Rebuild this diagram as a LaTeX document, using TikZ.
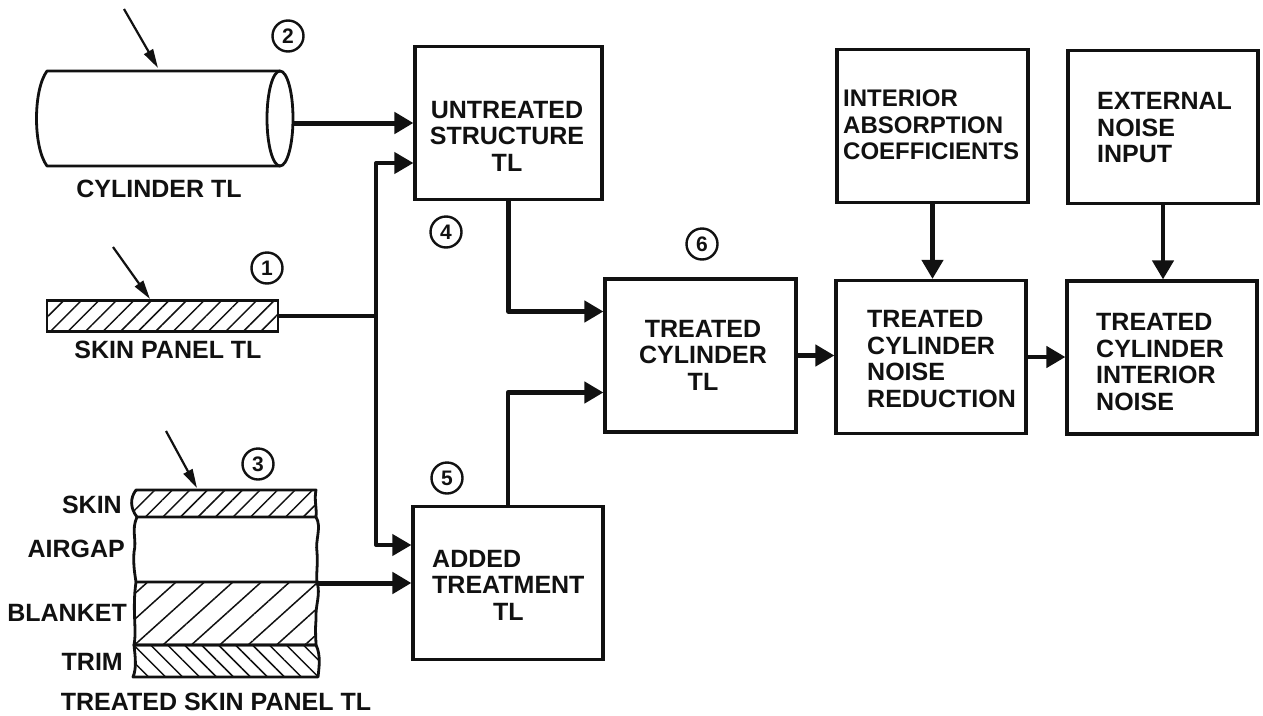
\documentclass[tikz,border=0pt]{standalone}
\usepackage{fontspec}
\setmainfont{Liberation Sans}
\usepackage{xcolor}
\usepackage{tikz}
\usetikzlibrary{
    arrows.meta, shapes.geometric, patterns.meta
}
\definecolor{inkcolor}{HTML}{111111}

\begin{document}
\begin{tikzpicture}[
    x=1pt, y=-1pt,
    color=inkcolor,
    block/.style={
        rectangle, draw, line width=3.2pt,
        minimum width=#1, minimum height=153pt, inner sep=0pt,
    },
    block/.default=190pt,
    boxtext/.style={
        font=\fontsize{25}{26.5}\selectfont\bfseries, inner sep=0pt,
    },
    tag/.style={
        circle, draw, line width=2.4pt, minimum size=31pt, inner sep=0pt,
        font=\fontsize{21}{21}\selectfont\bfseries,
    },
    flow/.style={
        line width=4.4pt, line join=round,
        -{Triangle[length=19pt,width=21pt]},
    },
    hit/.style={
        line width=2.2pt,
        -{Triangle[length=19pt,width=10pt]},
    },
    wall/.style={line width=2.8pt, line join=round},
    skinhatch/.style={pattern={Lines[angle=45,distance=12.4pt,line width=1.5pt]}, pattern color=inkcolor},
    blankethatch/.style={pattern={Lines[angle=42,distance=19pt,line width=1.5pt]}, pattern color=inkcolor},
    trimhatch/.style={pattern={Lines[angle=-45,distance=12pt,line width=1.5pt]}, pattern color=inkcolor},
]
\useasboundingbox (0,0) rectangle (1263,715);

% ── Blocks ─────────────────────────────────────────────────────────────────
\node[block=187pt] (untreated) at (508.5,123) {};
\node[block=191pt] (treated)   at (700.5,355.5) {};
\node[block=191pt] (absorption) at (932.5,126) {};
\node[block]       (external)  at (1163,127) {};
\node[block]       (reduction) at (931,357) {};
\node[block]       (interior)  at (1162,357.5) {};
\node[block]       (added)     at (508,583) {};

\node[boxtext, align=center] (untreatedtext) at (507,136) {UNTREATED\\STRUCTURE\\TL};
\node[boxtext, align=center] (treatedtext)   at (703,355) {TREATED\\CYLINDER\\TL};
\node[boxtext, align=left, anchor=west, font=\fontsize{24}{26.5}\selectfont\bfseries] (absorptiontext) at (843,125) {INTERIOR\\ABSORPTION\\COEFFICIENTS};
\node[boxtext, align=left, anchor=west] (externaltext)   at (1097,128) {EXTERNAL\\NOISE\\INPUT};
\node[boxtext, align=left, anchor=west] (reductiontext)  at (867,359) {TREATED\\CYLINDER\\NOISE\\REDUCTION};
\node[boxtext, align=left, anchor=west] (interiortext)   at (1096,362) {TREATED\\CYLINDER\\INTERIOR\\NOISE};
\node[boxtext, align=left, anchor=west] (addedtext)      at (432,585) {ADDED\\TREATMENT\\\hspace*{61pt}TL};

% ── Cylinder ───────────────────────────────────────────────────────────────
\draw[wall] (280,71) -- (47,71) .. controls (33,90) and (33,147) .. (47,166) -- (280,166);
\node[ellipse, draw, line width=2.8pt, minimum width=26pt, minimum height=95pt, inner sep=0pt] (cylend) at (280,118.5) {};
\node[boxtext] (cylindertext) at (159,189) {CYLINDER TL};

% ── Skin panel ─────────────────────────────────────────────────────────────
\node[rectangle, draw, line width=2.8pt, skinhatch, minimum width=231pt, minimum height=31pt, inner sep=0pt] (skinpanel) at (162.5,316) {};
\node[boxtext] (skintext) at (168,350) {SKIN PANEL TL};

% ── Treated skin panel ─────────────────────────────────────────────────────
\draw[wall, skinhatch] (136,490) -- (316,490) .. controls (314,500) and (317,508) .. (316,517)
    -- (137,517) .. controls (130,508) and (130,498) .. (136,490) -- cycle;
\draw[wall] (137,517) .. controls (131,530) and (137,540) .. (134,552) .. controls (133,565) and (135,575) .. (136,582)
    (316,517) .. controls (322,527) and (315,540) .. (317,552) .. controls (318,565) and (316,575) .. (317,582);
\draw[wall, blankethatch] (136,582) -- (317,582) .. controls (321,595) and (315,605) .. (316,620) .. controls (315,630) and (316,640) .. (316,645)
    -- (134,645) .. controls (137,630) and (132,610) .. (136,582) -- cycle;
\draw[wall, trimhatch] (134,645) -- (316,645) .. controls (321,655) and (319,668) .. (318,677)
    -- (133,677) .. controls (137,668) and (135,655) .. (134,645) -- cycle;
\coordinate (blanketedge) at (317,583);

\node[boxtext, anchor=east] (skinname)    at (122,505) {SKIN};
\node[boxtext, anchor=east] (airgapname)  at (125,549) {AIRGAP};
\node[boxtext, anchor=east] (blanketname) at (127,613) {BLANKET};
\node[boxtext, anchor=east] (trimname)    at (123,662) {TRIM};
\node[boxtext] (treatedpaneltext) at (216,702) {TREATED SKIN PANEL TL};

% ── Incident arrows ────────────────────────────────────────────────────────
\coordinate (cylsource)   at (124,9);
\coordinate (cylhit)      at (158,68);
\coordinate (skinsource)  at (113,247);
\coordinate (skinhit)     at (150,299);
\coordinate (panelsource) at (166,431);
\coordinate (panelhit)    at (197,488);
\draw[hit] (cylsource) -- (cylhit);
\draw[hit] (skinsource) -- (skinhit);
\draw[hit] (panelsource) -- (panelhit);

% ── Connectors ─────────────────────────────────────────────────────────────
\coordinate (trunk) at (376,316);
\draw[line width=4pt] (skinpanel.east) -- (trunk);
\draw[flow, line width=4pt] (trunk) |- ([yshift=-40pt]untreated.west);
\draw[flow, line width=4pt] (trunk) |- ([yshift=38pt]added.west);
\draw[flow, line width=5pt] (untreated.west -| cylend.east) -- (untreated.west);
\draw[flow, line width=5pt] (blanketedge) -- (added.west);
\draw[flow] (untreated.south) |- ([yshift=44pt]treated.west);
\draw[flow] (added.north) |- ([yshift=-37pt]treated.west);
\draw[flow] (treated.east) -- (treated.east -| reduction.west);
\draw[flow] (reduction.east) -- (reduction.east -| interior.west);
\draw[flow] (absorption.south) -- (absorption.south |- reduction.north);
\draw[flow] (external.south) -- (external.south |- interior.north);

% ── Reference numbers ──────────────────────────────────────────────────────
\node[tag] (tagtwo)   at (288,36)  {2};
\node[tag] (tagone)   at (267,268) {1};
\node[tag] (tagthree) at (258,464) {3};
\node[tag] (tagfour)  at (446,232) {4};
\node[tag] (tagfive)  at (447,478) {5};
\node[tag] (tagsix)   at (702,244) {6};

\end{tikzpicture}
\end{document}
